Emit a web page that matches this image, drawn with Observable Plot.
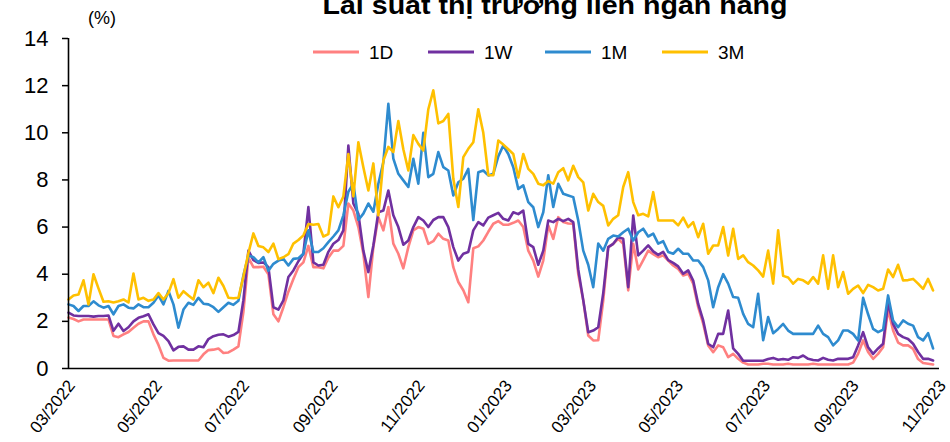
<!DOCTYPE html>
<html><head><meta charset="utf-8">
<script src="https://cdn.jsdelivr.net/npm/d3@7"></script>
<script src="https://cdn.jsdelivr.net/npm/@observablehq/plot@0.6"></script>
<style>
body{margin:0;background:#fff;}
#wrap{position:relative;width:950px;height:442px;overflow:hidden;}
</style></head><body><div id="wrap"></div>
<script>
const titleText = "Lãi suất thị trường liên ngân hàng";
const unitLabel = "(%)";
const seriesNames = ["1D", "1W", "1M", "3M"];
const seriesColors = ["#FF8080", "#7030A0", "#2E8BCF", "#FFC000"];
const startDate = [2022, 2, 1];  // first observation (UTC y, m0, d)
const stepDays = 3.5;            // spacing between observations
const tickLabels = ["03/2022","05/2022","07/2022","09/2022","11/2022","01/2023","03/2023","05/2023","07/2023","09/2023","11/2023"];
const yTicks = [0, 2, 4, 6, 8, 10, 12, 14];

const v3M = [
2.93,3.10,3.14,3.74,2.72,4.00,3.40,2.83,2.85,2.80,
2.85,2.93,2.80,4.03,2.93,3.00,2.87,2.93,3.20,2.93,
3.20,3.79,3.00,3.28,3.10,2.93,3.74,3.45,3.64,3.20,
3.85,3.50,3.00,2.98,3.00,3.90,4.90,5.73,5.20,5.14,
4.94,5.30,4.64,4.72,4.85,5.30,5.45,5.65,6.13,6.10,
6.13,5.60,5.70,7.30,6.84,7.30,9.10,7.30,9.60,8.54,
7.55,8.70,6.50,8.82,9.40,9.18,10.50,9.30,8.40,9.90,
9.53,9.25,11.00,11.80,10.40,10.50,10.80,8.05,6.85,8.97,
9.32,9.60,11.00,10.00,8.20,8.20,9.67,9.50,9.30,9.10,
8.10,9.10,8.47,8.26,7.84,7.77,7.95,7.84,8.33,8.50,
7.98,8.60,8.12,7.90,6.70,7.41,7.06,6.90,6.07,6.35,
6.50,7.70,8.33,7.06,6.50,6.56,6.45,7.48,6.28,6.28,
6.28,6.28,6.07,6.40,6.00,6.21,5.57,6.14,4.87,5.22,
5.22,6.00,4.79,5.93,4.65,4.80,4.51,4.37,4.16,3.90,
5.00,3.60,5.86,3.93,3.86,3.60,3.80,3.74,3.60,3.88,
3.60,4.80,3.38,4.80,3.45,4.09,3.17,3.38,3.52,3.20,
3.55,3.45,3.31,3.38,4.20,3.88,4.40,3.74,3.75,3.80,
3.60,3.38,3.80,3.31];

const v1M = [
2.72,2.65,2.44,2.65,2.65,2.85,2.68,2.58,2.65,2.30,
2.65,2.72,2.58,2.55,2.72,2.60,2.60,2.79,3.10,2.72,
3.29,2.72,1.73,2.50,2.79,2.70,3.00,2.75,2.72,2.60,
2.40,2.60,2.79,2.70,2.87,3.95,4.80,4.72,4.50,4.72,
4.15,4.44,4.58,4.65,4.37,4.65,4.68,4.87,5.86,4.94,
4.94,5.10,5.36,5.60,5.86,6.50,7.50,7.84,6.30,6.57,
7.00,6.65,7.84,8.75,11.23,8.90,8.26,7.98,7.70,8.90,
7.84,10.00,8.12,8.26,9.18,8.54,8.40,7.34,7.90,8.05,
8.47,6.30,8.33,8.40,8.19,8.26,9.00,9.46,9.10,8.54,
7.62,7.77,7.06,6.84,6.00,6.63,8.20,6.85,7.84,7.41,
7.34,7.27,6.28,5.00,4.40,3.45,5.30,5.00,5.50,5.64,
5.60,5.78,5.93,5.43,5.78,5.93,5.60,5.72,5.30,5.40,
4.94,4.87,5.08,4.87,4.87,4.58,4.58,4.30,3.74,2.60,
3.45,4.00,3.60,3.03,3.00,2.32,1.89,1.75,3.17,1.20,
2.18,1.50,1.68,1.89,1.61,1.47,1.47,1.47,1.47,1.47,
1.82,1.47,1.33,0.98,1.19,1.61,1.61,1.47,1.19,3.00,
2.30,1.68,1.54,1.65,3.10,2.04,1.75,2.04,1.90,1.82,
1.33,1.19,1.50,0.85];

const v1W = [
2.37,2.25,2.23,2.23,2.23,2.20,2.23,2.23,2.25,1.60,
1.90,1.59,1.75,2.00,2.15,2.22,2.30,1.87,1.50,1.38,
1.16,0.77,0.92,0.94,0.80,0.80,0.94,0.90,1.25,1.37,
1.43,1.45,1.35,1.42,1.55,2.90,5.00,4.60,4.48,4.50,
4.30,2.60,2.50,2.89,3.88,4.16,4.55,4.87,6.85,4.50,
4.37,4.40,4.95,5.29,5.45,5.86,9.46,7.00,6.56,5.00,
4.09,5.22,6.63,6.70,7.55,6.50,6.00,5.25,5.43,6.00,
6.42,6.28,6.00,6.30,6.42,6.42,6.00,5.15,4.58,4.87,
4.94,5.86,6.21,6.07,6.40,6.50,6.60,6.35,6.28,6.63,
6.55,6.70,5.29,5.15,4.40,5.00,6.28,6.21,6.35,6.25,
6.35,6.21,4.20,2.90,1.54,1.61,1.75,3.20,5.15,5.29,
5.57,5.50,3.45,6.49,4.80,5.00,5.22,4.97,4.82,4.95,
4.60,4.48,4.33,4.02,4.16,3.73,2.74,2.04,1.05,0.90,
1.47,1.47,2.46,0.85,0.62,0.33,0.33,0.33,0.33,0.33,
0.40,0.45,0.37,0.40,0.37,0.48,0.45,0.55,0.41,0.36,
0.34,0.45,0.37,0.34,0.41,0.41,0.41,0.48,0.98,1.54,
0.90,0.62,0.85,1.05,2.80,1.89,1.47,1.33,1.25,1.05,
0.70,0.41,0.41,0.34];

const v1D = [
2.16,2.10,2.00,2.08,2.08,2.08,2.08,2.08,2.08,1.38,
1.33,1.45,1.55,1.73,1.90,2.00,2.00,1.45,1.00,0.45,
0.33,0.34,0.34,0.34,0.34,0.34,0.34,0.60,0.78,0.80,
0.85,0.66,0.68,0.80,0.94,2.40,4.70,4.30,4.30,4.32,
4.00,2.30,2.00,2.60,3.26,3.80,4.30,4.50,5.20,4.30,
4.30,4.25,4.70,5.00,5.00,5.20,7.00,6.70,6.00,4.87,
3.03,5.15,6.42,5.86,6.85,5.30,4.87,4.25,5.15,5.86,
6.00,5.93,5.29,5.40,5.72,5.50,5.43,4.30,3.67,3.32,
2.81,5.10,5.18,5.43,5.80,6.14,6.25,6.10,6.10,6.18,
6.28,6.00,5.00,4.58,3.90,4.58,6.07,5.50,6.42,6.21,
6.15,6.14,4.00,2.89,1.40,1.19,1.20,2.88,5.15,5.29,
5.50,5.29,3.31,5.29,4.20,4.60,5.00,4.85,4.72,4.80,
4.58,4.37,4.22,3.95,4.02,3.60,2.60,1.90,0.98,0.69,
0.98,0.90,0.48,0.62,0.41,0.25,0.17,0.17,0.17,0.20,
0.20,0.17,0.17,0.17,0.20,0.17,0.17,0.17,0.17,0.20,
0.17,0.17,0.17,0.17,0.17,0.17,0.17,0.25,0.62,1.19,
0.70,0.41,0.62,0.90,2.50,1.61,1.10,0.98,0.98,0.83,
0.40,0.23,0.20,0.17];

const seriesValues = [v1D, v1W, v1M, v3M];
const t0 = Date.UTC(...startDate);
const rows = [];
seriesNames.forEach((name, k) => {
  seriesValues[k].forEach((v, i) => {
    rows.push({date: new Date(t0 + i * stepDays * 86400000), value: v, series: name});
  });
});
const tickDates = tickLabels.map(s => { const [m, y] = s.split("/").map(Number); return new Date(Date.UTC(y, m - 1, 1)); });

const FONT = "'Liberation Sans', Arial, Helvetica, sans-serif";
const plot = Plot.plot({
  width: 950, height: 442,
  marginLeft: 68, marginRight: 11, marginTop: 38, marginBottom: 74,
  style: {fontFamily: FONT, color: "#000", background: "#fff", fontSize: "22px"},
  x: {type: "utc", domain: [tickDates[0], tickDates[tickDates.length - 1]], axis: null},
  y: {domain: [0, 14], axis: null},
  color: {domain: seriesNames, range: seriesColors},
  marks: [
    Plot.axisY({ticks: yTicks, tickSize: 6, tickPadding: 14, label: null, fontSize: 22, strokeWidth: 1.5}),
    Plot.lineY(rows, {x: "date", y: "value", z: "series", stroke: "series", strokeWidth: 2.6, strokeLinejoin: "round"}),
    Plot.ruleY([0], {stroke: "#000", strokeWidth: 1.6}),
    Plot.ruleX([tickDates[0]], {stroke: "#000", strokeWidth: 1.6}),
    Plot.text(tickDates, {x: d => d, y: 0, text: (d, i) => tickLabels[i], rotate: -52, textAnchor: "end", dx: 3, dy: 14, fontSize: 17, fill: "#000"})
  ]
});
document.getElementById("wrap").appendChild(plot);

const svg = d3.select(plot);
svg.append("text").text(titleText)
  .attr("x", 555).attr("y", 14).attr("text-anchor", "middle")
  .attr("font-family", FONT).attr("font-weight", "bold").attr("font-size", 26)
  .attr("textLength", 465).attr("lengthAdjust", "spacingAndGlyphs").attr("fill", "#000");
svg.append("text").text(unitLabel)
  .attr("x", 88).attr("y", 24).attr("text-anchor", "start")
  .attr("font-family", FONT).attr("font-size", 18).attr("fill", "#000");

const legendX = [313, 428, 545, 662];
seriesNames.forEach((name, k) => {
  const g = svg.append("g");
  g.append("line").attr("x1", legendX[k]).attr("x2", legendX[k] + 46).attr("y1", 52).attr("y2", 52)
    .attr("stroke", seriesColors[k]).attr("stroke-width", 3);
  g.append("text").text(name).attr("x", legendX[k] + 56).attr("y", 59).attr("text-anchor", "start")
    .attr("font-family", FONT).attr("font-size", 19).attr("fill", "#000");
});
</script></body></html>
